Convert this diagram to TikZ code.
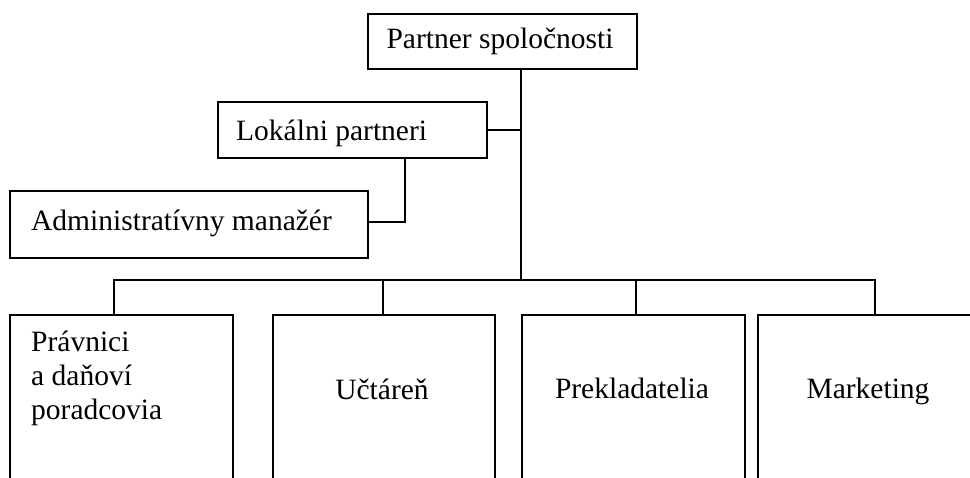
\documentclass[tikz,border=0pt]{standalone}
\usepackage{fontspec}
\setmainfont{Liberation Serif}
\begin{document}
\begin{tikzpicture}[x=1pt,y=-1pt,
  box/.style={draw,line width=1.8pt,rectangle,inner sep=0pt,anchor=north west},
  conn/.style={line width=1.8pt},
  txt/.style={inner sep=0pt,font=\fontsize{29.5}{34}\selectfont}]
\useasboundingbox (0,0) rectangle (970,478);
\clip (0,0) rectangle (970,478);
% boxes
\node[box,minimum width=269pt,minimum height=55pt] (top) at (367,13) {};
\node[box,minimum width=269pt,minimum height=56pt] (lok) at (217,101) {};
\node[box,minimum width=358pt,minimum height=67pt] (adm) at (9,190) {};
\node[box,minimum width=223pt,minimum height=230pt] (b1) at (9,314) {};
\node[box,minimum width=222pt,minimum height=230pt] (b2) at (272,314) {};
\node[box,minimum width=223pt,minimum height=230pt] (b3) at (521,314) {};
\node[box,minimum width=222pt,minimum height=230pt] (b4) at (757,314) {};
% texts
\node[txt,anchor=base] (ttop) at (500,49) {Partner spoločnosti};
\node[txt,anchor=base west] (tlok) at (236,141) {Lokálni partneri};
\node[txt,anchor=base west] (tadm) at (31,231) {Administratívny manažér};
\node[txt,anchor=base west] (t1a) at (31,352) {Právnici};
\node[txt,anchor=base west] (t1b) at (31,386) {a daňoví};
\node[txt,anchor=base west] (t1c) at (31,420) {poradcovia};
\node[txt,anchor=base] (t2) at (382,400) {Učtáreň};
\node[txt,anchor=base] (t3) at (632,399) {Prekladatelia};
\node[txt,anchor=base] (t4) at (868,399) {Marketing};
% connectors
\coordinate (vx) at (521,280);
\coordinate (bus1) at (114,280);
\coordinate (bus2) at (383,280);
\coordinate (bus3) at (636,280);
\coordinate (bus4) at (875,280);
\coordinate (admj) at (405,222);
\draw[conn] (top.south -| vx) -- (vx);
\draw[conn] (lok.east) -- (lok.east -| vx);
\draw[conn] (lok.south -| admj) -- (admj) -- (adm.east |- admj);
\draw[conn,line cap=rect] (bus1) -- (bus4);
\draw[conn] (bus1) -- (bus1 |- b1.north);
\draw[conn] (bus2) -- (bus2 |- b2.north);
\draw[conn] (bus3) -- (bus3 |- b3.north);
\draw[conn] (bus4) -- (bus4 |- b4.north);
\end{tikzpicture}
\end{document}
